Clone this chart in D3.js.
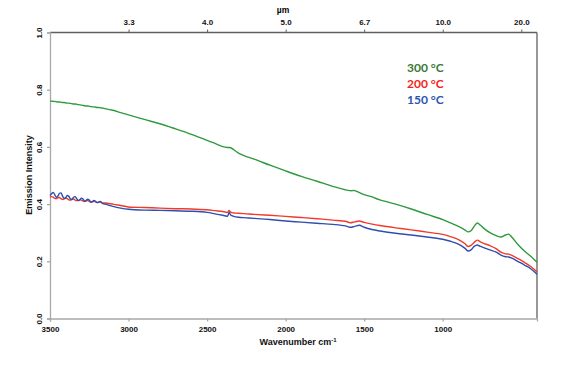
<!DOCTYPE html>
<html><head><meta charset="utf-8">
<script src="https://cdn.jsdelivr.net/npm/d3@7"></script>
<style>body{margin:0;background:#fff}svg{display:block}</style>
</head><body><svg id="c" width="580" height="367"></svg>
<script>
const wavenumbers = [3500,3490,3480,3470,3460,3450,3440,3430,3420,3410,3400,3390,3380,3370,3360,3350,3340,3330,3320,3310,3300,3290,3280,3270,3260,3250,3240,3230,3220,3210,3200,3190,3180,3170,3160,3150,
3100,3050,3000,2900,2800,2700,2600,2500,2450,2400,2370,2360,2350,2330,2300,2250,2200,2100,2000,1900,1800,1700,1620,1590,1560,1530,1500,1450,1400,1300,1200,1100,1000,950,900,860,840,820,800,780,760,740,700,660,630,600,580,560,520,480,440,400];
const series300 = [0.760,0.760,0.759,0.759,0.758,0.757,0.757,0.756,0.755,0.755,0.754,0.753,0.753,0.752,0.751,0.750,0.750,0.749,0.748,0.747,0.746,0.745,0.744,0.743,0.743,0.742,0.741,0.740,0.740,0.739,0.738,0.738,0.737,0.736,0.735,0.734,
0.728,0.720,0.712,0.696,0.681,0.663,0.644,0.623,0.612,0.601,0.598,0.598,0.597,0.590,0.578,0.566,0.557,0.536,0.516,0.497,0.480,0.462,0.450,0.447,0.447,0.440,0.433,0.425,0.415,0.400,0.383,0.364,0.346,0.334,0.322,0.310,0.303,0.307,0.322,0.334,0.326,0.316,0.300,0.290,0.285,0.292,0.295,0.284,0.258,0.236,0.218,0.197];
const series200 = [0.424,0.426,0.424,0.420,0.419,0.422,0.423,0.419,0.416,0.418,0.421,0.419,0.415,0.414,0.417,0.418,0.414,0.412,0.413,0.415,0.414,0.411,0.409,0.411,0.412,0.410,0.407,0.408,0.410,0.408,0.406,0.407,0.408,0.405,0.404,0.404,
0.400,0.395,0.390,0.388,0.386,0.384,0.383,0.380,0.377,0.374,0.371,0.378,0.372,0.369,0.368,0.366,0.364,0.361,0.357,0.353,0.349,0.344,0.340,0.335,0.338,0.341,0.336,0.330,0.325,0.317,0.310,0.302,0.294,0.286,0.276,0.262,0.252,0.256,0.266,0.274,0.268,0.263,0.255,0.244,0.232,0.226,0.225,0.221,0.209,0.196,0.182,0.163];
const series150 = [0.430,0.436,0.441,0.433,0.424,0.428,0.437,0.439,0.428,0.420,0.423,0.430,0.427,0.418,0.416,0.424,0.426,0.419,0.412,0.415,0.421,0.418,0.410,0.413,0.417,0.414,0.407,0.409,0.413,0.410,0.405,0.407,0.409,0.404,0.401,0.400,
0.392,0.386,0.382,0.379,0.378,0.377,0.375,0.371,0.366,0.361,0.358,0.371,0.362,0.357,0.354,0.352,0.350,0.346,0.341,0.337,0.333,0.329,0.324,0.319,0.322,0.326,0.319,0.311,0.306,0.298,0.292,0.285,0.277,0.270,0.260,0.246,0.236,0.240,0.252,0.257,0.252,0.248,0.240,0.232,0.222,0.216,0.215,0.211,0.199,0.187,0.174,0.155];
const yTicks = [0.0,0.2,0.4,0.6,0.8,1.0];
const xTicks = [3500,3000,2500,2000,1500,1000];
const topTicks = [3000,2500,2000,1500,1000,500];
const topLabels = ["3.3","4.0","5.0","6.7","10.0","20.0"];
const legendLabels = ["300 °C","200 °C","150 °C"];

const svg = d3.select("#c");
const L=50,R=537,T=32.5,B=318.5;
const x = d3.scaleLinear().domain([3500,400]).range([L,R]);
const y = d3.scaleLinear().domain([0,1]).range([B,T]);
const font = "'Liberation Sans', Arial, sans-serif";

svg.append("line").attr("x1",L).attr("x2",R).attr("y1",T).attr("y2",T).attr("stroke","#606060").attr("stroke-width",1.3);
svg.append("line").attr("x1",R).attr("x2",R).attr("y1",T).attr("y2",B).attr("stroke","#606060").attr("stroke-width",1.3);

const gx = svg.append("g").attr("transform",`translate(0,${B})`)
  .call(d3.axisBottom(x).tickValues(xTicks).tickSize(3).tickFormat(d3.format("d")));
const gy = svg.append("g").attr("transform",`translate(${L},0)`)
  .call(d3.axisLeft(y).tickValues(yTicks).tickSize(3).tickFormat(d3.format(".1f")));
const gt = svg.append("g").attr("transform",`translate(0,${T})`)
  .call(d3.axisTop(x).tickValues(topTicks).tickSize(3).tickFormat((d,i)=>topLabels[i]));
[gx,gy].forEach(g=>{g.selectAll("path,line").attr("stroke","#a8a8a8").attr("stroke-width",1.3);});
gt.selectAll("path").remove();
gt.selectAll("line").attr("stroke","#606060").attr("stroke-width",1);
[gx,gy,gt].forEach(g=>g.selectAll("text").attr("font-family",font).attr("font-weight","bold").attr("font-size",8).attr("fill","#111"));
gx.selectAll("text").attr("dy","0.95em");
gt.selectAll("text").attr("dy","-0.25em");
gy.selectAll("text").attr("text-anchor","middle").attr("dy","0")
  .attr("x",0).attr("y",0).attr("transform","translate(-8,0) rotate(-90)");

svg.append("text").attr("x",283).attr("y",13).attr("text-anchor","middle").attr("font-family",font).attr("font-weight","bold").attr("font-size",8.5).text("µm");
const xt = svg.append("text").attr("x",298).attr("y",345).attr("text-anchor","middle").attr("font-family",font).attr("font-weight","bold").attr("font-size",9).attr("fill","#111");
xt.append("tspan").text("Wavenumber cm");
xt.append("tspan").attr("font-size",6).attr("dy",-3.5).text("-1");
svg.append("text").attr("transform","translate(32,175) rotate(-90)").attr("text-anchor","middle").attr("font-family",font).attr("font-weight","bold").attr("font-size",9).attr("fill","#111").text("Emission Intensity");

const line = d3.line().curve(d3.curveCatmullRom.alpha(0.5)).x((d,i)=>x(wavenumbers[i])).y(d=>y(d));
const lines = [[series300,"#2f9a3c"],[series200,"#f23a2c"],[series150,"#2d50ad"]];
lines.forEach(([s,c])=>svg.append("path").attr("d",line(s)).attr("fill","none").attr("stroke",c).attr("stroke-width",1.4).attr("stroke-linejoin","round"));

const legendColors = ["#3c7834","#f4241c","#2d55b0"];
legendLabels.forEach((t,i)=>svg.append("text").attr("x",407).attr("y",72+i*16).attr("font-family","Lato, 'Open Sans', sans-serif").attr("font-weight","bold").attr("font-size",12).attr("fill",legendColors[i]).text(t));
</script></body></html>
